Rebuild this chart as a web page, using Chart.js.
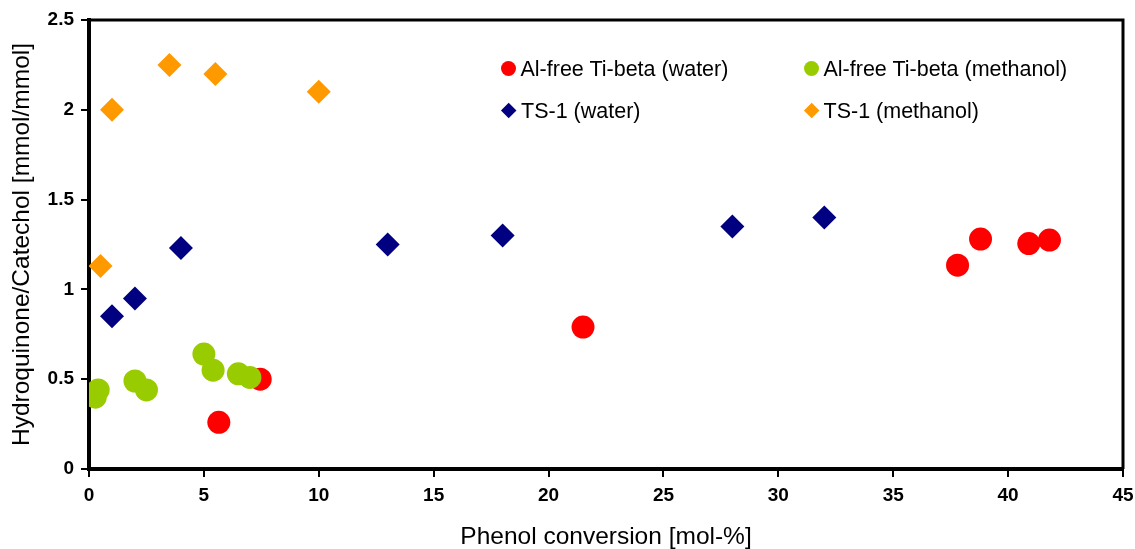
<!DOCTYPE html>
<html>
<head>
<meta charset="utf-8">
<script src="https://cdn.jsdelivr.net/npm/chart.js@4.4.1/dist/chart.umd.min.js"></script>
<style>
  html, body { margin: 0; padding: 0; background: #fff; }
  #wrap { position: relative; width: 1135px; height: 549px; }
  canvas { display: block; }
  .leg { position: absolute; font-family: "Liberation Sans", Arial, sans-serif; font-size: 21.5px; color: #000; white-space: nowrap; line-height: 22px; }
  .mk { position: absolute; }
</style>
</head>
<body>
<div id="wrap">
  <canvas id="c" width="1135" height="549"></canvas>
  <div id="legend"></div>
</div>
<script>
// ---- data ----
const seriesNames = ["Al-free Ti-beta (water)", "Al-free Ti-beta (methanol)", "TS-1 (water)", "TS-1 (methanol)"];
const tiBetaWaterX = [5.65, 7.45, 21.5, 37.8, 38.8, 40.9, 41.8];
const tiBetaWaterY = [0.26, 0.50, 0.79, 1.135, 1.28, 1.255, 1.275];
const tiBetaMethX  = [0.27, 0.4, 2.0, 2.5, 5.0, 5.4, 6.5, 7.0];
const tiBetaMethY  = [0.40, 0.44, 0.49, 0.44, 0.64, 0.55, 0.53, 0.51];
const ts1WaterX    = [1.0, 2.0, 4.0, 13.0, 18.0, 28.0, 32.0];
const ts1WaterY    = [0.85, 0.95, 1.23, 1.25, 1.30, 1.35, 1.40];
const ts1MethX     = [0.5, 1.0, 3.5, 5.5, 10.0];
const ts1MethY     = [1.13, 2.0, 2.25, 2.2, 2.1];
const xTitle = "Phenol conversion [mol-%]";
const yTitle = "Hydroquinone/Catechol [mmol/mmol]";

const colors = ["#FF0000", "#99CC00", "#000080", "#FF9900"];
const styles = ["circle", "circle", "rectRot", "rectRot"];

function pts(xs, ys) { return xs.map((x, i) => ({ x: x, y: ys[i] })); }
const allX = [tiBetaWaterX, tiBetaMethX, ts1WaterX, ts1MethX];
const allY = [tiBetaWaterY, tiBetaMethY, ts1WaterY, ts1MethY];

const datasets = seriesNames.map((name, i) => ({
  label: name,
  data: pts(allX[i], allY[i]),
  backgroundColor: colors[i],
  borderColor: colors[i],
  borderWidth: 0,
  pointStyle: styles[i],
  pointRadius: styles[i] === "circle" ? 11.5 : 12,
  pointHoverRadius: styles[i] === "circle" ? 11.5 : 12,
  order: 4 - i
}));

const frame = {
  id: 'frame',
  afterDraw(chart) {
    const a = chart.chartArea, ctx = chart.ctx;
    ctx.save();
    ctx.strokeStyle = '#000';
    ctx.lineWidth = 3;
    ctx.beginPath();
    ctx.moveTo(a.left, a.top);
    ctx.lineTo(a.right, a.top);
    ctx.lineTo(a.right, a.bottom);
    ctx.stroke();
    ctx.restore();
  }
};

const tickFont = { family: "'Liberation Sans', Arial, sans-serif", size: 19, weight: 'bold' };
const titleFont = { family: "'Liberation Sans', Arial, sans-serif", size: 24.5, weight: 'normal', lineHeight: 1 };

new Chart(document.getElementById('c'), {
  type: 'scatter',
  data: { datasets: datasets },
  options: {
    responsive: false,
    animation: false,
    layout: { padding: { top: 20, right: 12, left: 0, bottom: 0 } },
    plugins: { legend: { display: false }, tooltip: { enabled: false } },
    scales: {
      x: {
        type: 'linear', min: 0, max: 45,
        ticks: { stepSize: 5, color: '#000', font: tickFont, padding: 7, maxRotation: 0 },
        grid: { display: true, drawOnChartArea: false, drawTicks: true, tickLength: 8, color: '#000', lineWidth: 2 },
        border: { display: true, color: '#000', width: 4 },
        title: { display: true, text: xTitle, color: '#000', font: titleFont, padding: { top: 0, bottom: 0 } },
        afterFit(s) { s.height = 80; s.paddingLeft = 0; s.paddingRight = 0; }
      },
      y: {
        type: 'linear', min: 0, max: 2.5,
        ticks: { stepSize: 0.5, color: '#000', font: tickFont, padding: 7, callback: v => String(v) },
        grid: { display: true, drawOnChartArea: false, drawTicks: true, tickLength: 8, color: '#000', lineWidth: 2 },
        border: { display: true, color: '#000', width: 4 },
        title: { display: true, text: yTitle, color: '#000', font: titleFont, padding: { top: 10, bottom: 0 } },
        afterFit(s) { s.width = 89; s.paddingTop = 0; s.paddingBottom = 0; }
      }
    }
  },
  plugins: [frame]
});

// ---- legend (HTML text) ----
const legPos = [[508.5, 68.5], [811.5, 68.5], [509, 110.5], [811.5, 110.5]];
const legend = document.getElementById('legend');
seriesNames.forEach((name, i) => {
  const [cx, cy] = legPos[i];
  const m = document.createElement('div');
  m.className = 'mk';
  if (styles[i] === 'circle') {
    m.style.cssText = `left:${cx-7.5}px;top:${cy-7.5}px;width:15px;height:15px;border-radius:50%;background:${colors[i]};`;
  } else {
    m.style.cssText = `left:${cx-5.7}px;top:${cy-5.7}px;width:11.4px;height:11.4px;transform:rotate(45deg);background:${colors[i]};`;
  }
  legend.appendChild(m);
  const t = document.createElement('div');
  t.className = 'leg';
  t.style.left = (cx + 12) + 'px';
  t.style.top = (cy - 11) + 'px';
  t.textContent = name;
  legend.appendChild(t);
});
</script>
</body>
</html>
